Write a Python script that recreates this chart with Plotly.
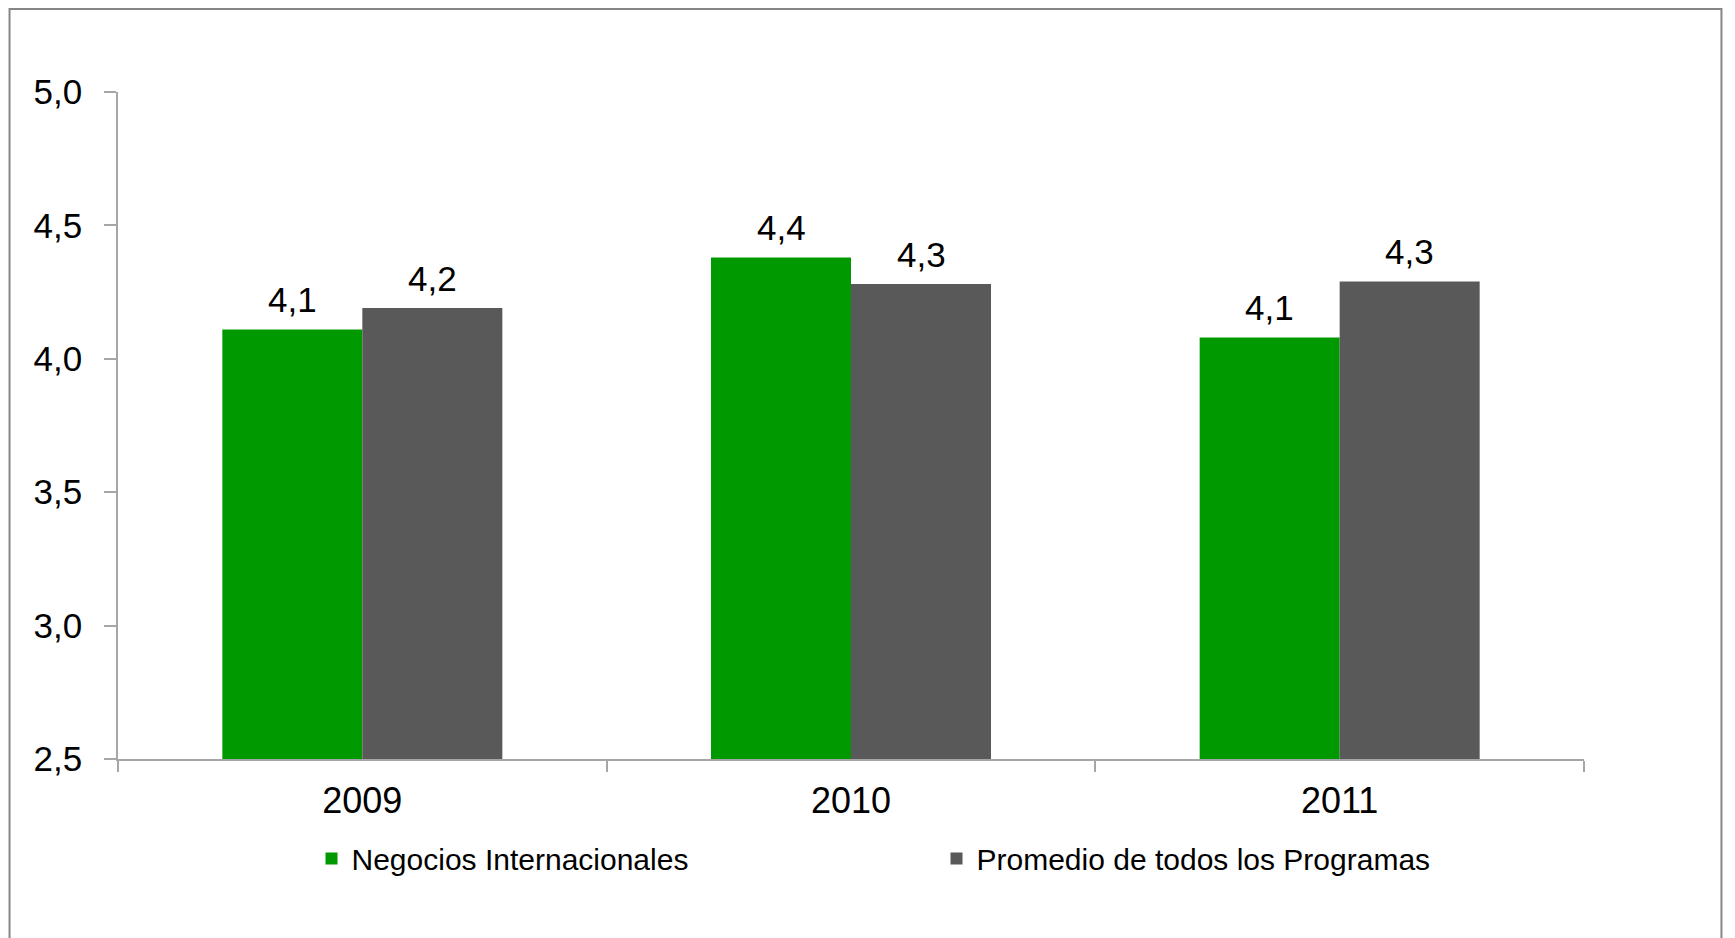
import plotly.graph_objects as go

years = ["2009", "2010", "2011"]
negocios = [4.11, 4.38, 4.08]
promedio = [4.19, 4.28, 4.29]
series_names = ["Negocios Internacionales", "Promedio de todos los Programas"]
y_ticks = [2.5, 3.0, 3.5, 4.0, 4.5, 5.0]

W, H = 1735, 938
L, T = 110, 84
pw, ph = 1466.5, 667.2
R = W - L - pw
B = H - T - ph

def px2paper_x(px):
    return (px - L) / pw

def px2paper_y(py):
    return (T + ph - py) / ph

FONT = "Liberation Sans, Arial, sans-serif"
colors = ["#009900", "#595959"]
values = [negocios, promedio]

fig = go.Figure()
for name, vals, col in zip(series_names, values, colors):
    fig.add_trace(go.Bar(x=years, y=vals, name=name,
                         marker=dict(color=col, line=dict(width=0))))

# value labels above each bar (category axis: annotations use the category index)
bar_half = 70
for vals, sign in zip(values, [-1, 1]):
    for idx, v in enumerate(vals):
        fig.add_annotation(x=idx, y=v, text=f"{v:.1f}".replace(".", ","),
                           xref="x", yref="y", showarrow=False,
                           xshift=sign * bar_half, yshift=8, yanchor="bottom",
                           font=dict(size=35, color="black", family=FONT))

fig.add_shape(type="rect", xref="paper", yref="paper",
              x0=px2paper_x(1.5), x1=px2paper_x(1714),
              y0=px2paper_y(960), y1=px2paper_y(1),
              line=dict(color="#868686", width=2), fillcolor="rgba(0,0,0,0)",
              layer="below")

fig.update_layout(
    width=W, height=H,
    margin=dict(l=L, r=R, t=T, b=B, pad=0),
    paper_bgcolor="white", plot_bgcolor="white",
    separators=",.",
    barmode="group", bargap=0.427, bargroupgap=0,
    font=dict(family=FONT, color="black"),
    showlegend=True,
    legend=dict(orientation="h", x=0.132, xanchor="left", y=-0.149, yanchor="middle",
                font=dict(size=30, color="black", family=FONT),
                entrywidth=580, itemwidth=30, traceorder="normal",
                bgcolor="rgba(0,0,0,0)"),
)
fig.update_xaxes(type="category", range=[-0.5, len(years) - 0.5],
                 showline=True, linecolor="#a6a6a6", linewidth=1.5,
                 ticks="outside", tickson="boundaries", ticklen=11, tickcolor="#a6a6a6",
                 tickwidth=1.5, tickfont=dict(size=36, family=FONT, color="black"),
                 showgrid=False, zeroline=False, ticklabelstandoff=9, tickangle=0)
fig.update_yaxes(range=[2.5, 5.0], tickvals=y_ticks, tickformat=".1f",
                 showline=True, linecolor="#a6a6a6", linewidth=1.5,
                 ticks="outside", ticklen=12, tickcolor="#a6a6a6", tickwidth=1.5,
                 tickfont=dict(size=35, family=FONT, color="black"),
                 showgrid=False, zeroline=False, ticklabelstandoff=15)

fig.write_html("out.html")
